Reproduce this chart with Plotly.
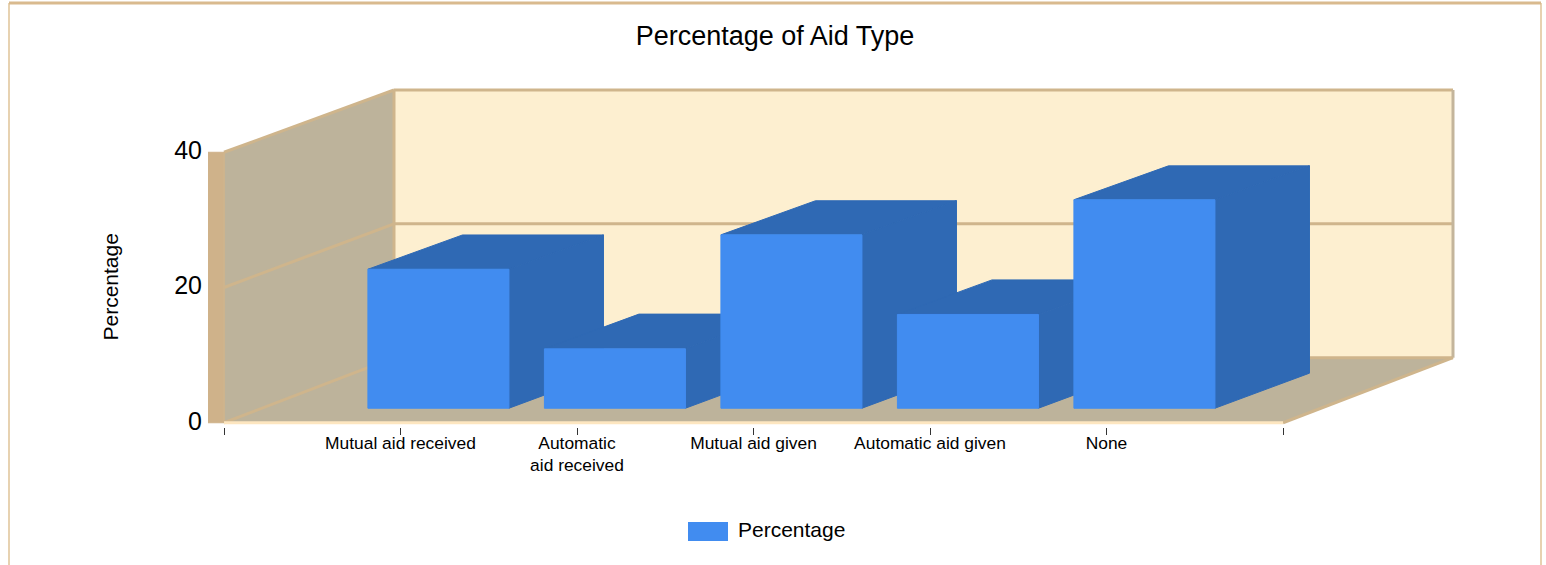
import plotly.graph_objects as go

categories = ["Mutual aid received", "Automatic<br>aid received", "Mutual aid given", "Automatic aid given", "None"]
percentages = [20.6, 8.8, 25.7, 13.9, 30.9]
y_ticks = [0, 20, 40]
series_name = "Percentage"
chart_title = "Percentage of Aid Type"

W, H = 1546, 565
BLUE, BLUE_DK = "#418CF0", "#2F69B4"
WALL, SIDE, EDGE, STRIP = "#FDEFD0", "#BDB39B", "#CFB58C", "#CFB28A"

PX_X0, PX_STEP = 224.0, 176.5   # pixel of x=0, pixels per category
PX_Y0, PX_UNIT = 422.0, 6.75    # pixel of v=0, pixels per percent
DX, DY = 170 / PX_STEP, 65 / PX_UNIT  # data shift over the full depth
SHRINK = 0.0104                 # slight foreshortening of values towards the back
LEFT, RIGHT, TOP, BOTTOM = 208.0, 1458.0, 85.0, 426.0
xr = [(LEFT - PX_X0) / PX_STEP, (RIGHT - PX_X0) / PX_STEP]
yr = [(PX_Y0 - BOTTOM) / PX_UNIT, (PX_Y0 - TOP) / PX_UNIT]
X_MAX = 6.0
V_MAX = 40.0


def proj(x, v, d):
    return x + DX * d, v * (1 - SHRINK * d) + DY * d


def poly(pts, color, line=None, lw=1):
    xs, ys = zip(*[proj(*p) for p in pts + pts[:1]])
    return go.Scatter(x=xs, y=ys, mode="lines", fill="toself", fillcolor=color,
                      line=dict(color=line or color, width=lw), hoverinfo="skip", showlegend=False)


def seg(a, b, color=EDGE, lw=3):
    xs, ys = zip(proj(*a), proj(*b))
    return go.Scatter(x=xs, y=ys, mode="lines", line=dict(color=color, width=lw),
                      hoverinfo="skip", showlegend=False)


fig = go.Figure()
# walls
fig.add_trace(poly([(X_MAX, 0, 1), (X_MAX, V_MAX, 1), (0, V_MAX, 1), (0, 0, 1)], WALL))
fig.add_trace(poly([(0, 0, 0), (0, V_MAX, 0), (0, V_MAX, 1), (0, 0, 1)], SIDE))
fig.add_trace(poly([(0, 0, 0), (X_MAX, 0, 0), (X_MAX, 0, 1), (0, 0, 1)], SIDE))
# left strip of the y axis
strip_w = 16 / PX_STEP
fig.add_trace(go.Scatter(x=[-strip_w, 0, 0, -strip_w, -strip_w], y=[0, 0, V_MAX, V_MAX, 0], mode="lines",
                         fill="toself", fillcolor=STRIP, line=dict(color=STRIP, width=1),
                         hoverinfo="skip", showlegend=False))
# gridlines and edges
for t in y_ticks:
    if t == 0:
        continue
    if t != V_MAX:
        fig.add_trace(seg((0, t, 0), (0, t, 1)))
    fig.add_trace(seg((0, t, 1), (X_MAX, t, 1)))
fig.add_trace(seg((0, V_MAX, 0), (0, V_MAX, 1)))
fig.add_trace(seg((0, 0, 0), (0, V_MAX, 0), lw=1.5))
fig.add_trace(seg((0, 0, 0), (0, 0, 1)))
fig.add_trace(seg((0, 0, 1), (0, V_MAX, 1)))
fig.add_trace(seg((0, 0, 1), (X_MAX, 0, 1)))
fig.add_trace(seg((X_MAX, 0, 1), (X_MAX, V_MAX, 1), color="#C4B59B"))
fig.add_trace(seg((X_MAX, 0, 0), (X_MAX, 0, 1)))
fig.add_trace(seg((0, 0, 0), (X_MAX, 0, 0), color="#FDE6C0"))

# bars, left to right
BW = 0.3995
D0, D1 = 14.5 / 65, 49.5 / 65
BACK_X = 3 / PX_STEP   # bars lean a little further right than the floor
for i, v in enumerate(percentages, start=1):
    l, r = i - BW, i + BW
    lb, rb = l + BACK_X, r + BACK_X
    fig.add_trace(poly([(l, v, D0), (r, v, D0), (rb, v, D1), (lb, v, D1)], BLUE_DK))
    fig.add_trace(poly([(r, 0, D0), (rb, 0, D1), (rb, v, D1), (r, v, D0)], BLUE_DK))
    fig.add_trace(poly([(l, 0, D0), (r, 0, D0), (r, v, D0), (l, v, D0)], BLUE))

fig.update_layout(
    width=W, height=H + 9, margin=dict(l=0, r=0, t=0, b=0), paper_bgcolor="white", plot_bgcolor="rgba(0,0,0,0)",
    font=dict(family="Liberation Sans", color="black"), showlegend=False,
    xaxis=dict(domain=[LEFT / W, RIGHT / W], range=xr, showgrid=False, zeroline=False, showline=False,
               tickmode="array", tickvals=list(range(0, 7)),
               ticktext=[""] + categories + [""], ticks="outside", ticklen=7, tickcolor="#333333", tickwidth=1,
               tickfont=dict(size=17.4), ticklabelstandoff=-7, fixedrange=True),
    yaxis=dict(domain=[1 - BOTTOM / H, 1 - TOP / H], range=yr, showgrid=False, zeroline=False, showline=False,
               tickmode="array", tickvals=y_ticks, tickfont=dict(size=25), ticks="", ticklabelstandoff=5,
               ticklabelshift=-2, fixedrange=True),
    title=dict(text=chart_title, x=775 / W, xanchor="center", y=1 - 35 / H, yanchor="middle",
               font=dict(size=27, color="black")),
    shapes=[
        dict(type="path", xref="paper", yref="paper", line=dict(color="#E0C398", width=1.5),
             path=f"M {9/W},0 L {9/W},{1-3/H} M {1541/W},{1-3/H} L {1541/W},0"),
        dict(type="line", xref="paper", yref="paper", x0=9 / W, x1=1541 / W, y0=1 - 3 / H, y1=1 - 3 / H,
             line=dict(color="#D9BA8E", width=3)),
        dict(type="rect", xref="paper", yref="paper", x0=688 / W, x1=728 / W, y0=1 - 540 / H, y1=1 - 521 / H,
             fillcolor=BLUE, line=dict(width=0)),
    ],
    annotations=[
        dict(text=series_name, xref="paper", yref="paper", x=736 / W, y=1 - 529 / H, xanchor="left",
             yanchor="middle", showarrow=False, font=dict(size=21)),
        dict(text=series_name, xref="paper", yref="paper", x=111 / W, y=1 - 287 / H, xanchor="center",
             yanchor="middle", showarrow=False, textangle=-90, font=dict(size=21)),
    ],
)
fig.write_html("out.html", post_script="document.body.style.margin='0';",
               config={"displayModeBar": False, "responsive": False})
